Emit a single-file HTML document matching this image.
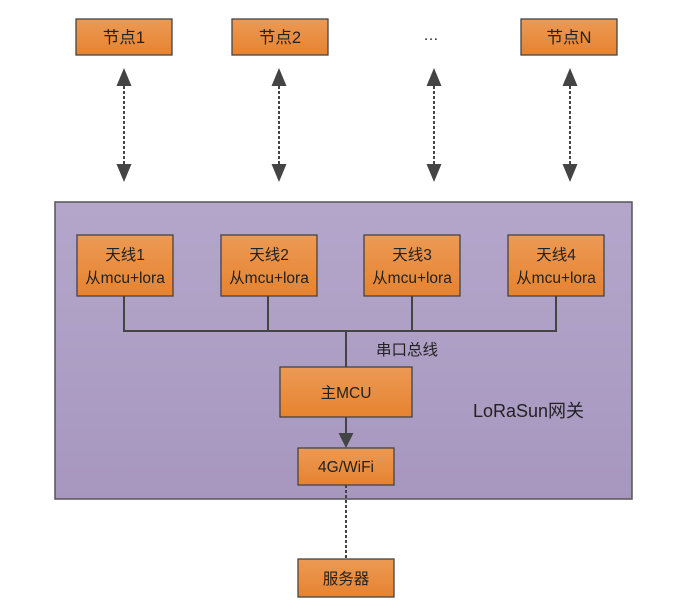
<!DOCTYPE html>
<html><head><meta charset="utf-8"><style>
body{margin:0;background:#fff}
text{font-family:"Liberation Sans","Noto Sans CJK SC",sans-serif;font-size:15.5px;fill:#222}
</style></head><body>
<svg width="683" height="602" xmlns="http://www.w3.org/2000/svg">
<defs>
<linearGradient id="o" x1="0" y1="0" x2="0" y2="1"><stop offset="0" stop-color="#ec9a55"/><stop offset="1" stop-color="#e6832f"/></linearGradient>
<linearGradient id="p" x1="0" y1="0" x2="0" y2="1"><stop offset="0" stop-color="#b4a6cb"/><stop offset="1" stop-color="#a797bf"/></linearGradient>
</defs>
<rect x="55" y="202" width="577" height="297" fill="url(#p)" stroke="#555" stroke-width="1.5"/>
<g fill="url(#o)" stroke="#444" stroke-width="1.3">
<rect x="76" y="19" width="96" height="36"/>
<rect x="232" y="19" width="96" height="36"/>
<rect x="521" y="19" width="96" height="36"/>
<rect x="77" y="235" width="96" height="61"/>
<rect x="221" y="235" width="96" height="61"/>
<rect x="364" y="235" width="96" height="61"/>
<rect x="508" y="235" width="96" height="61"/>
<rect x="280" y="367" width="132" height="50"/>
<rect x="298" y="448" width="96" height="37"/>
<rect x="298" y="559" width="96" height="38"/>
</g>
<g stroke="#444" stroke-width="2" fill="none">
<path d="M124 296V331H556V296M268 296V331M412 296V331M346 331V367M346 417V436"/>
</g>
<g stroke="#444" stroke-width="2" stroke-dasharray="3,2" fill="none">
<path d="M124 86V166M279 86V166M434 86V166M570 86V166M346 485V559"/>
</g>
<g fill="#444">
<path d="M124 68l-7.5 18h15zM124 182l-7.5-18h15z"/>
<path d="M279 68l-7.5 18h15zM279 182l-7.5-18h15z"/>
<path d="M434 68l-7.5 18h15zM434 182l-7.5-18h15z"/>
<path d="M570 68l-7.5 18h15zM570 182l-7.5-18h15z"/>
<path d="M346 448l-7.5-15h15z"/>
</g>
<g text-anchor="middle">
<text x="124" y="43" style="font-size:16.5px">节点1</text>
<text x="280" y="43" style="font-size:16.5px">节点2</text>
<text x="431" y="40">…</text>
<text x="569" y="43" style="font-size:16.5px">节点N</text>
<text x="125" y="260">天线1</text><text x="125" y="283">从mcu+lora</text>
<text x="269" y="260">天线2</text><text x="269" y="283">从mcu+lora</text>
<text x="412" y="260">天线3</text><text x="412" y="283">从mcu+lora</text>
<text x="556" y="260">天线4</text><text x="556" y="283">从mcu+lora</text>
<text x="346" y="398">主MCU</text>
<text x="346" y="472">4G/WiFi</text>
<text x="346" y="584">服务器</text>
<text x="407" y="355">串口总线</text>
</g>
<text x="473" y="417" style="font-size:18px">LoRaSun网关</text>
</svg>
</body></html>
